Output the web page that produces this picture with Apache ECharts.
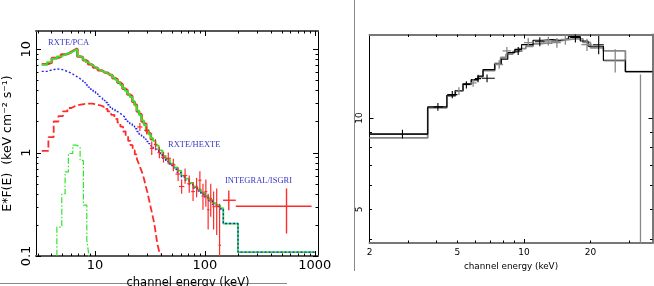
<!DOCTYPE html>
<html><head><meta charset="utf-8">
<script src="https://cdn.jsdelivr.net/npm/echarts@6/dist/echarts.min.js"></script>
<style>html,body{margin:0;padding:0;background:#fff}#c{width:654px;height:286px}</style>
</head><body><div id="c"></div>
<script>
// ================= LEFT PANEL DATA (E in keV, E*F(E)) =================
// total model (green): bin lower edges + final upper edge, one value per bin
const totalModelE = [3.27,3.64,4.04,4.49,4.9,5.3,5.7,6.14,6.5,6.9,7.3,7.75,8.2,8.65,9.1,9.6,10.1,10.6,11.1,11.7,
  12.3,13.0,13.7,14.4,15.2,16.0,16.9,17.8,18.7,19.7,20.7,21.8,22.9,24.0,25.2,26.5,27.8,29.2,30.7,32.2,33.8,35.5,
  38,41,44,48,52,56,61,66,72,78,85,92,100,108,117,127,137,147,200,1000];
const totalModelF = [7.08,7.5,8.1,8.5,8.8,9.1,9.35,9.73,9.95,8.6,8.3,7.9,7.5,7.2,6.95,6.7,6.5,6.3,6.15,6.0,
  5.85,5.7,5.55,5.3,5.05,4.8,4.5,4.2,3.95,3.7,3.45,3.15,2.85,2.55,2.3,2.05,1.85,1.66,1.5,1.38,1.3,1.17,
  1.05,0.93,0.86,0.78,0.72,0.67,0.6,0.56,0.51,0.47,0.44,0.41,0.38,0.35,0.325,0.31,0.29,0.206,0.109];
// RXTE/PCA data (red steps)
const pcaDataE = [3.27,3.64,4.04,4.49,4.9,5.3,5.7,6.14,6.5,6.9,7.3,7.75,8.2,8.65,9.1,9.6,10.1,10.6,11.1,11.7,
  12.3,13.0,13.7,14.4,15.2,16.0,16.9,17.8,18.7,19.7,20.7,21.8,22.9,24.0,25.2,26.5,27.8,29.2,30.7,32.2,33.8];
const pcaDataF = [7.15,7.45,8.2,8.45,8.9,9.05,9.45,9.8,10.1,8.5,8.35,7.85,7.6,7.15,7.0,6.65,6.55,6.25,6.2,5.95,
  5.9,5.65,5.6,5.25,5.1,4.75,4.55,4.15,4.0,3.65,3.5,3.1,2.9,2.5,2.35,2.0,1.9,1.62,1.53,1.35];
// comptonised component (blue dotted), PCA range
const comptE = [3.27,3.64,4.04,4.49,4.9,5.3,5.7,6.14,6.5,6.9,7.3,7.75,8.2,8.65,9.1,9.6,10.1,10.6,11.1,11.7,
  12.3,13.0,13.7,14.4,15.2,16.0,16.9,17.8,18.7,19.7,20.7,21.8,22.9,24.0,25.2,26.5,27.8,29.2,30.7,32.2,33.8,35.5];
const comptF = [6.1,6.3,6.45,6.4,6.25,6.05,5.85,5.6,5.4,5.2,5.0,4.75,4.5,4.3,4.1,3.9,3.7,3.5,3.35,3.2,
  3.05,2.9,2.75,2.62,2.5,2.4,2.3,2.2,2.1,2.0,1.9,1.8,1.7,1.6,1.5,1.42,1.35,1.28,1.22,1.16,1.1];
// comptonised component (blue dotted), HEXTE + ISGRI range
const comptHiE = [35.5,38,41,44,48,52,56,61,66,72,78,85,92,100,108,117,127,137,147,200,1000];
const comptHiF = [1.08,0.98,0.88,0.82,0.75,0.69,0.64,0.58,0.54,0.49,0.455,0.425,0.395,0.365,0.34,0.315,0.3,0.285,0.206,0.109];
// disk blackbody component (red dashed)
const diskE = [3.27,3.76,4.2,4.64,5.1,5.6,6.1,6.6,7.2,7.9,8.6,9.4,10.2,11.1,12.0,13.0,14.0,15.0,16.0,17.0,
  18,19,20,21,22,23,24,25,26,27,28,29,30,31,32,33,34,35,36,37,38,39,40.5];
const diskF = [1.04,1.41,2.0,2.25,2.5,2.7,2.82,2.9,2.95,2.98,2.97,2.93,2.87,2.78,2.65,2.5,2.32,2.12,1.95,1.78,
  1.6,1.45,1.3,1.18,1.05,0.96,0.87,0.78,0.7,0.63,0.55,0.47,0.41,0.35,0.3,0.26,0.225,0.19,0.155,0.13,0.115,0.105];
// iron line (green dash-dot)
const ironE = [4.2,4.49,4.98,5.34,5.72,6.27,6.82,7.31,7.83,8.41,8.7,9.0,9.3];
const ironF = [0.05,0.19,0.40,0.65,0.98,1.18,1.13,0.84,0.31,0.142,0.11,0.05];
// HEXTE data crosses: [E, F, Elo, Ehi, Flo, Fhi]
const hexteCross = [
  [25.6,1.77,24.2,27.0,1.62,1.93],[29.5,1.64,28,31,1.5,1.8],[32.8,1.1,31.5,34.3,0.95,1.28],
  [35.5,1.2,34.3,37,1.05,1.35],[38.5,1.0,37,40,0.88,1.13],[42,0.9,40,44,0.8,1.02],
  [46.4,0.88,44,49,0.77,1.0],[51.6,0.76,49,54,0.66,0.87],[57,0.62,54,60,0.53,0.72],
  [61.4,0.47,58,65,0.4,0.55],[66,0.6,63,69,0.5,0.7],[72,0.5,69,75,0.41,0.6],
  [78,0.42,75,81,0.34,0.52],[84,0.46,81,87,0.37,0.57],[90,0.54,87,93,0.42,0.66],
  [96,0.38,93,99,0.28,0.5],[102,0.42,99,105,0.3,0.55],[107,0.28,105,110,0.18,0.4],
  [113,0.36,110,116,0.24,0.5],[120,0.3,117,123,0.18,0.42],[128,0.3,124,132,0.16,0.45],
  [136,0.127,133,140,0.1,0.32]];
// ISGRI data crosses
const isgriCross = [[165,0.346,146,191,0.277,0.43],[553,0.303,191,935,0.165,0.45]];
// left axes: ranges, tick values, labels
const lxRange = [2.9, 1070];
const lyRange = [0.1, 15];
const lxLabels = [10,100,1000];
const lxMajor = [10,100,1000];
const lxMinor = [3,4,5,6,7,8,9,20,30,40,50,60,70,80,90,200,300,400,500,600,700,800,900];
const lyLabels = [0.1,1,10];
const lyMajor = [0.1,1,10];
const lyMinor = [0.2,0.3,0.4,0.5,0.6,0.7,0.8,0.9,2,3,4,5,6,7,8,9];

// ================= RIGHT PANEL DATA =================
const rBlackE = [2.0,3.67,4.48,4.89,5.30,5.78,6.2,6.53,7.38,7.9,8.45,9.1,9.76,11.0,12.2,13.4,14.6,15.9,18.0,19.5,22.9,28.8,38.2];
const rBlackF = [8.85,10.87,11.87,12.3,12.94,13.37,13.71,14.42,15.0,15.6,16.4,16.8,17.4,18.0,18.1,18.0,18.2,18.5,17.9,17.2,15.45,14.2];
const rGrayE = [2.0,3.67,4.48,4.89,5.30,5.78,6.2,6.53,7.38,7.85,8.3,8.9,9.5,10.2,11.0,11.8,12.6,13.4,14.5,15.7,17.1,18.5,20.0,22.9,28.8,38.2];
const rGrayF = [8.6,10.8,11.8,12.25,12.9,13.3,13.65,14.3,15.1,15.8,16.2,16.5,16.9,17.2,17.5,17.6,17.6,17.9,18.1,18.2,18.2,17.7,17.0,16.6,14.2];
const rBlackCross = [
  [2.82,8.85,2.0,3.67,8.55,9.15],[4.08,10.87,3.9,4.3,10.55,11.2],[4.74,11.93,4.5,5.0,11.6,12.25],
  [5.49,12.88,5.3,5.7,12.5,13.2],[6.2,13.46,6.0,6.4,13.1,13.85],[6.81,13.5,6.45,7.38,13.1,13.9],
  [9.42,16.6,9.0,9.85,16.1,17.1],[11.8,17.8,11.2,12.4,17.2,18.4],[17.1,18.4,16.2,18.0,17.7,19.1],
  [21.8,17.4,20.5,23.0,16.2,18.6]];
const rGrayCross = [
  [5.08,12.24,4.9,5.3,11.9,12.6],[5.89,13.03,5.7,6.1,12.65,13.4],[7.73,14.98,7.4,8.05,14.5,15.5],
  [8.37,16.6,8.0,8.75,16.1,17.1],[10.46,17.67,10.0,10.9,17.1,18.3],[12.9,17.9,12.3,13.5,17.3,18.5],
  [14.1,17.67,13.5,14.7,17.0,18.3],[15.4,18.1,14.7,16.1,17.4,18.8],[19.3,17.4,18.2,20.3,16.6,18.2],
  [25.9,15.4,23.0,28.8,14.1,16.8],[33.7,14.2,33.7,33.7,3.0,13.9]];
const rxRange = [2, 38.2];
const ryRange = [3.88, 18.8];
const rxLabels = [2,5,10,20];
const rxMajor = [10];
const rxMinor = [3,4,5,6,7,8,9,20,30];
const ryLabels = [5,10];
const ryMajor = [10];
const ryMinor = [4,5,6,7,8,9];

// ================= BUILD =================
const SANS = 'DejaVu Sans';
function stepData(edges, vals) {
  return edges.map((e, i) => [e, vals[Math.min(i, vals.length - 1)]]);
}
const fmt = v => String(+Number(v).toPrecision(6));

function axisPair(dim, g, range, labels, o) {
  const sides = dim === 'x' ? ['bottom', 'top'] : ['left', 'right'];
  const base = {type: 'log', logBase: 10, gridIndex: g, min: range[0], max: range[1], splitLine: {show: false}, silent: true,
    axisTick: {show: false}};
  const main = Object.assign({}, base, {
    position: sides[0],
    axisLine: {show: true, onZero: false, lineStyle: {color: o.c0, width: o.w0}},
    axisLabel: {show: true, customValues: labels, formatter: fmt, fontFamily: SANS, fontSize: o.fs, color: '#000',
      margin: o.margin, rotate: dim === 'y' ? 90 : 0},
  });
  if (o.name) {
    Object.assign(main, {name: o.name, nameLocation: 'middle', nameGap: o.nameGap, nameRotate: dim === 'y' ? 90 : 0,
      nameTextStyle: {fontFamily: SANS, fontSize: o.nfs, color: '#000', padding: o.npad || 0}});
  }
  return [
    main,
    Object.assign({}, base, {position: sides[1], axisLine: {show: true, onZero: false, lineStyle: {color: o.c1, width: o.w1}}, axisLabel: {show: false}})
  ];
}

// tick marks drawn inside the frame on all four sides, placed by the axes' own scales
function tickSeries(axes, xr, yr, xMaj, xMin, yMaj, yMin, lenMaj, lenMin) {
  const rows = [];
  xMaj.forEach(v => rows.push([v, yr[0], 0, lenMaj]));
  xMin.forEach(v => rows.push([v, yr[0], 0, lenMin]));
  yMaj.forEach(v => rows.push([xr[0], v, 1, lenMaj]));
  yMin.forEach(v => rows.push([xr[0], v, 1, lenMin]));
  return Object.assign({type: 'custom', data: rows, clip: false, z: 10, silent: true, encode: {x: 0, y: 1},
    renderItem: (params, api) => {
      const cs = params.coordSys;
      const p = api.coord([api.value(0), api.value(1)]);
      const kind = api.value(2), len = api.value(3);
      const st = {stroke: '#000', lineWidth: 1};
      let l1, l2;
      if (kind === 0) {
        const x = Math.round(p[0]) + 0.5, yb = cs.y + cs.height, yt = cs.y;
        l1 = {x1: x, y1: yb, x2: x, y2: yb - len};
        l2 = {x1: x, y1: yt, x2: x, y2: yt + len};
      } else {
        const y = Math.round(p[1]) + 0.5, xl = cs.x, xr2 = cs.x + cs.width;
        l1 = {x1: xl, y1: y, x2: xl + len, y2: y};
        l2 = {x1: xr2, y1: y, x2: xr2 - len, y2: y};
      }
      return {type: 'group', children: [{type: 'line', shape: l1, style: st}, {type: 'line', shape: l2, style: st}]};
    }}, axes);
}

const L = {xAxisIndex: 0, yAxisIndex: 0};
const R = {xAxisIndex: 2, yAxisIndex: 2};
function stepSeries(axes, edges, vals, color, width, type, z) {
  return Object.assign({type: 'line', step: 'end', symbol: 'none', data: stepData(edges, vals), silent: true,
    lineStyle: {color, width, type}, z, clip: true}, axes);
}
function crossSeries(axes, rows, color, width, z) {
  return Object.assign({type: 'custom', data: rows, clip: true, z, silent: true, encode: {x: 0, y: 1},
    renderItem: (params, api) => {
      const x = api.value(0), y = api.value(1);
      const a = api.coord([api.value(2), y]), b = api.coord([api.value(3), y]);
      const c = api.coord([x, api.value(4)]), d = api.coord([x, api.value(5)]);
      const st = {stroke: color, lineWidth: width};
      return {type: 'group', children: [
        {type: 'line', shape: {x1: a[0], y1: a[1], x2: b[0], y2: b[1]}, style: st},
        {type: 'line', shape: {x1: c[0], y1: c[1], x2: d[0], y2: d[1]}, style: st}]};
    }}, axes);
}

const GREEN = '#2ee62e', RED = '#ff2b2b', BLUE = '#2424f0';
const option = {
  animation: false,
  backgroundColor: '#fff',
  grid: [
    {left: 36, top: 31, width: 282, height: 225, containLabel: false, outerBoundsMode: 'none'},
    {left: 369.5, top: 34.5, width: 283, height: 208.5, containLabel: false, outerBoundsMode: 'none'}
  ],
  xAxis: [].concat(
    axisPair('x', 0, lxRange, lxLabels,
      {c0: '#555', w0: 2, c1: '#555', w1: 2, fs: 13, margin: 3,
       name: 'channel energy (keV)', nameGap: 13, nfs: 11.5, npad: [0, 0, 0, 22]}),
    axisPair('x', 1, rxRange, rxLabels,
      {c0: '#777', w0: 2, c1: '#777', w1: 2, fs: 9, margin: 5,
       name: 'channel energy (keV)', nameGap: 16, nfs: 8.8})
  ),
  yAxis: [].concat(
    axisPair('y', 0, lyRange, lyLabels,
      {c0: '#000', w0: 1, c1: '#000', w1: 1, fs: 13, margin: 3,
       name: 'E*F(E)  (keV cm\u207B\u00B2 s\u207B\u00B9)', nameGap: 22, nfs: 12.5}),
    axisPair('y', 1, ryRange, ryLabels,
      {c0: '#000', w0: 1, c1: '#777', w1: 2, fs: 9, margin: 5})
  ),
  series: [
    stepSeries(L, pcaDataE, pcaDataF, RED, 2.6, 'solid', 3),
    stepSeries(L, totalModelE, totalModelF, GREEN, 1.8, 'solid', 4),
    stepSeries(L, comptE, comptF, BLUE, 1.4, [2, 2], 5),
    stepSeries(L, comptHiE, comptHiF, BLUE, 1.4, [2, 2], 5),
    stepSeries(L, diskE, diskF, RED, 1.8, [7, 3], 5),
    stepSeries(L, ironE, ironF, GREEN, 1.2, [6, 2, 1.5, 2], 5),
    crossSeries(L, hexteCross, RED, 1.2, 6),
    crossSeries(L, isgriCross, RED, 1.4, 6),
    tickSeries(L, lxRange, lyRange, lxMajor, lxMinor, lyMajor, lyMinor, 5, 2.5),
    stepSeries(R, rGrayE, rGrayF, '#888', 1.8, 'solid', 3),
    stepSeries(R, rBlackE, rBlackF, '#000', 1.2, 'solid', 4),
    crossSeries(R, rGrayCross, '#888', 1.3, 5),
    crossSeries(R, rBlackCross, '#000', 1.1, 6),
    tickSeries(R, rxRange, ryRange, rxMajor, rxMinor, ryMajor, ryMinor, 4, 2.5)
  ],
  graphic: [
    {type: 'line', shape: {x1: 354.5, y1: 0, x2: 354.5, y2: 271}, style: {stroke: '#888', lineWidth: 1}, silent: true},
    {type: 'line', shape: {x1: 0, y1: 283.5, x2: 287, y2: 283.5}, style: {stroke: '#888', lineWidth: 1}, silent: true},
    {type: 'text', left: 48, top: 38.5, style: {text: 'RXTE/PCA', fontFamily: 'Liberation Serif', fontSize: 8.5, fill: '#3838c8'}, silent: true},
    {type: 'text', left: 168, top: 140.5, style: {text: 'RXTE/HEXTE', fontFamily: 'Liberation Serif', fontSize: 8.5, fill: '#3838c8'}, silent: true},
    {type: 'text', left: 225, top: 176.5, style: {text: 'INTEGRAL/ISGRI', fontFamily: 'Liberation Serif', fontSize: 8.5, fill: '#3838c8'}, silent: true}
  ]
};
const chart = echarts.init(document.getElementById('c'), null, {renderer: 'canvas', width: 654, height: 286});
chart.setOption(option);
</script></body></html>
